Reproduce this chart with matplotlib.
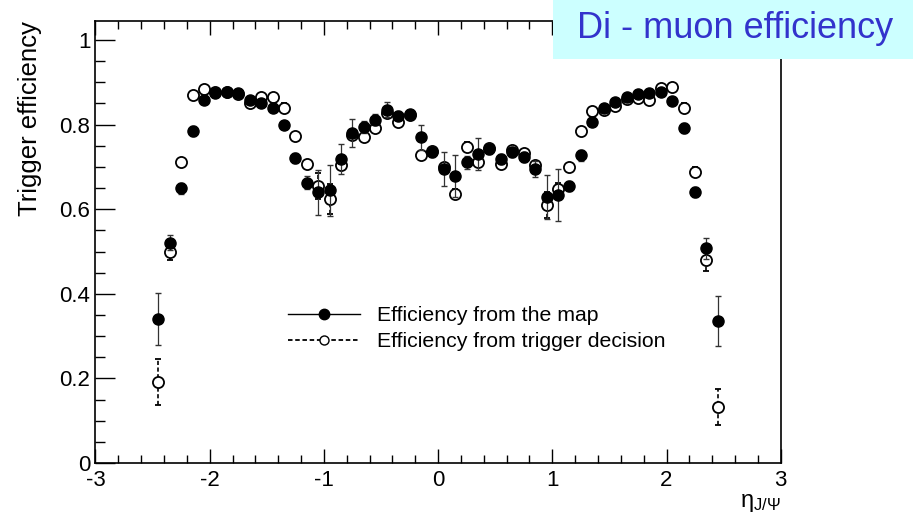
import matplotlib
matplotlib.use('Agg')
import matplotlib.pyplot as plt
from matplotlib.lines import Line2D
from matplotlib.patches import Rectangle
from matplotlib.ticker import MultipleLocator

plt.rcParams['font.family'] = ['Liberation Sans', 'DejaVu Sans']
plt.rcParams['mathtext.default'] = 'regular'

# ---------------- data ----------------
eta = [-2.45, -2.35, -2.25, -2.15, -2.05, -1.95, -1.85, -1.75, -1.65, -1.55,
       -1.45, -1.35, -1.25, -1.15, -1.05, -0.95, -0.85, -0.75, -0.65, -0.55,
       -0.45, -0.35, -0.25, -0.15, -0.05, 0.05, 0.15, 0.25, 0.35, 0.45,
       0.55, 0.65, 0.75, 0.85, 0.95, 1.05, 1.15, 1.25, 1.35, 1.45,
       1.55, 1.65, 1.75, 1.85, 1.95, 2.05, 2.15, 2.25, 2.35, 2.45]

eff_map = [0.341, 0.521, 0.649, 0.784, 0.858, 0.874, 0.878, 0.875, 0.858, 0.851,
           0.839, 0.799, 0.721, 0.663, 0.640, 0.645, 0.719, 0.780, 0.794, 0.812,
           0.835, 0.821, 0.825, 0.770, 0.735, 0.695, 0.679, 0.711, 0.731, 0.742,
           0.719, 0.735, 0.724, 0.695, 0.628, 0.634, 0.655, 0.727, 0.806, 0.840,
           0.853, 0.865, 0.873, 0.875, 0.877, 0.857, 0.791, 0.640, 0.508, 0.336]

err_map = [0.062, 0.018, 0.012, 0.012, 0.008, 0.008, 0.008, 0.008, 0.008, 0.008,
           0.008, 0.010, 0.012, 0.015, 0.053, 0.060, 0.035, 0.033, 0.015, 0.012,
           0.018, 0.010, 0.010, 0.030, 0.012, 0.040, 0.050, 0.015, 0.038, 0.012,
           0.012, 0.012, 0.012, 0.018, 0.052, 0.061, 0.012, 0.012, 0.010, 0.008,
           0.008, 0.008, 0.008, 0.008, 0.008, 0.008, 0.012, 0.012, 0.025, 0.060]

eff_trig = [0.191, 0.498, 0.711, 0.870, 0.885, 0.878, 0.876, 0.872, 0.851, 0.865,
            0.866, 0.840, 0.772, 0.707, 0.655, 0.624, 0.705, 0.776, 0.770, 0.792,
            0.828, 0.806, 0.822, 0.727, 0.738, 0.700, 0.636, 0.748, 0.711, 0.745,
            0.707, 0.740, 0.733, 0.705, 0.610, 0.648, 0.699, 0.784, 0.832, 0.835,
            0.845, 0.860, 0.863, 0.858, 0.887, 0.890, 0.840, 0.689, 0.480, 0.132]

err_trig = [0.054, 0.018, 0.010, 0.010, 0.008, 0.008, 0.008, 0.008, 0.008, 0.008,
            0.008, 0.010, 0.010, 0.010, 0.030, 0.035, 0.012, 0.010, 0.010, 0.010,
            0.010, 0.010, 0.010, 0.010, 0.010, 0.010, 0.012, 0.010, 0.010, 0.010,
            0.010, 0.010, 0.010, 0.010, 0.030, 0.015, 0.010, 0.010, 0.010, 0.008,
            0.008, 0.008, 0.008, 0.008, 0.008, 0.008, 0.010, 0.010, 0.026, 0.043]

x_ticks = [-3, -2, -1, 0, 1, 2, 3]
x_tick_labels = ['-3', '-2', '-1', '0', '1', '2', '3']
y_ticks = [0, 0.2, 0.4, 0.6, 0.8, 1.0]
y_tick_labels = ['0', '0.2', '0.4', '0.6', '0.8', '1']

legend_labels = ['Efficiency from the map', 'Efficiency from trigger decision']
title_text = 'Di - muon efficiency'

# ---------------- figure ----------------
fig = plt.figure(figsize=(9.13, 5.22), dpi=100)
ax = fig.add_axes([0.1046, 0.1130, 0.7505, 0.8473])

dash = (0, (2.5, 1.5))
eb_t = ax.errorbar(eta, eff_trig, yerr=err_trig, fmt='o', ms=8, mfc='white',
                   mec='black', mew=1.3, ecolor='black', elinewidth=1.2,
                   capsize=2.5, capthick=1.6, zorder=2)
eb_t[2][0].set_linestyle(dash)

eb_m = ax.errorbar(eta, eff_map, yerr=err_map, fmt='o', ms=8, mfc='black',
                   mec='black', mew=1.0, ecolor='#333333', elinewidth=0.9,
                   capsize=2.5, capthick=0.9, zorder=3)

ax.set_xlim(-3, 3)
ax.set_ylim(0, 1.0456)
ax.set_xticks(x_ticks, labels=x_tick_labels)
ax.set_yticks(y_ticks, labels=y_tick_labels)
ax.xaxis.set_minor_locator(MultipleLocator(0.2))
ax.yaxis.set_minor_locator(MultipleLocator(0.05))

ax.tick_params(axis='x', which='major', direction='in', length=10, width=1,
               top=True, labelsize=16, pad=5)
ax.tick_params(axis='x', which='minor', direction='in', length=5.5, width=1,
               top=True)
ax.tick_params(axis='y', which='major', direction='in', length=14.4, width=1,
               right=False, labelsize=16, pad=3.6)
ax.tick_params(axis='y', which='minor', direction='in', length=7.2, width=1,
               right=False)
for s in ax.spines.values():
    s.set_linewidth(1.2)

ax.set_ylabel('Trigger efficiency', fontsize=18.5, loc='top')
ax.yaxis.label.set_va('center')
ax.yaxis.set_label_coords(-0.096, 1.0)

ax.set_xlabel(r'$\eta_{J/\Psi}$', fontsize=17, loc='right')
ax.xaxis.set_label_coords(1.0, -0.066)

h1 = Line2D([], [], color='black', lw=1.0, marker='o', ms=7.5, mfc='black')
h2 = Line2D([], [], color='black', lw=1.3, ls=dash, marker='o', ms=6.5,
            mfc='white', mew=1.0)
ax.legend([h1, h2], legend_labels, loc='upper left',
          bbox_to_anchor=(0.2815, 0.355), frameon=False, fontsize=15.3,
          handlelength=3.39, handletextpad=0.8, labelspacing=0.33,
          borderpad=0, borderaxespad=0)

rect = Rectangle((553 / 913, 1 - 59 / 522), 1 - 553 / 913, 59 / 522,
                 transform=fig.transFigure, facecolor='#CCFFFF',
                 edgecolor='none', zorder=5)
fig.add_artist(rect)
fig.text(735 / 913, 1 - 29 / 522, title_text, ha='center', va='center',
         fontsize=26, color='#3333CC', zorder=6)

fig.savefig('out.png', dpi=100)
